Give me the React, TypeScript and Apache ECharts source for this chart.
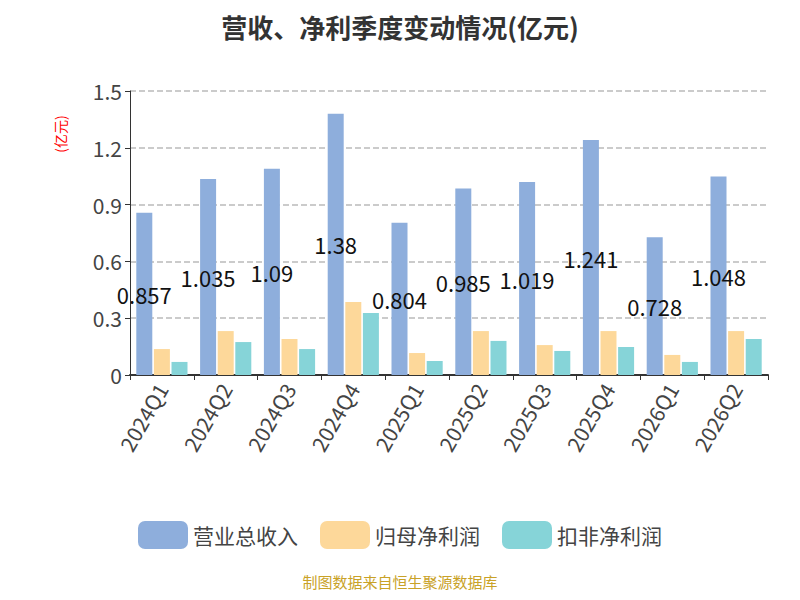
import * as echarts from 'echarts';
import { useEffect, useRef } from 'react';

const quarters = ['2024Q1', '2024Q2', '2024Q3', '2024Q4', '2025Q1', '2025Q2', '2025Q3', '2025Q4', '2026Q1', '2026Q2'];
const revenue = [0.857, 1.035, 1.09, 1.38, 0.804, 0.985, 1.019, 1.241, 0.728, 1.048];
const netProfit = [0.137, 0.232, 0.19, 0.386, 0.116, 0.232, 0.158, 0.232, 0.106, 0.232];
const deductedProfit = [0.069, 0.174, 0.137, 0.328, 0.074, 0.18, 0.127, 0.148, 0.069, 0.19];
const yTicks = { min: 0, max: 1.5, interval: 0.3 };

export default function App() {
  const chartRef = useRef<HTMLDivElement>(null);

  useEffect(() => {
    if (!chartRef.current) return;
    const chart = echarts.init(chartRef.current, null, { renderer: 'svg' });
    const font = 'Noto Sans CJK SC';

    chart.setOption({
      animation: false,
      textStyle: { fontFamily: font },
      title: {
        text: '营收、净利季度变动情况(亿元)',
        left: 'center',
        top: 0,
        textStyle: { fontSize: 26, fontWeight: 'bold', color: '#333', fontFamily: font },
      },
      grid: { left: 122, right: 24, top: 83, bottom: 217 },
      legend: {
        bottom: 38,
        itemWidth: 50,
        itemHeight: 28,
        itemGap: 22,
        icon: 'roundRect',
        textStyle: { fontSize: 21, color: '#444', fontFamily: font },
      },
      graphic: [
        {
          type: 'text',
          left: 'center',
          top: 566,
          style: { text: '制图数据来自恒生聚源数据库', fill: '#c9a227', fontSize: 15, fontFamily: font },
        },
        {
          type: 'text',
          x: 52,
          y: 126,
          rotation: Math.PI / 2,
          style: { text: '(亿元)', fill: 'red', fontSize: 14, fontFamily: font, align: 'center', verticalAlign: 'middle' },
        },
      ],
      xAxis: {
        type: 'category',
        data: quarters,
        axisLine: { lineStyle: { color: '#333', width: 2 } },
        axisTick: { show: true, lineStyle: { color: '#333' } },
        axisLabel: { rotate: 60, fontSize: 21, color: '#444', margin: 10 },
      },
      yAxis: {
        type: 'value',
        ...yTicks,
        axisLine: { show: true, lineStyle: { color: '#333', width: 1 } },
        axisTick: { show: true, lineStyle: { color: '#333' } },
        axisLabel: { fontSize: 21, color: '#444', formatter: (v: number) => (v === 0 ? '0' : v.toFixed(1)) },
        splitLine: { lineStyle: { type: 'dashed', color: '#bbb', width: 1.5 } },
      },
      series: [
        {
          name: '营业总收入',
          type: 'bar',
          data: revenue,
          barWidth: 16,
          barGap: '10%',
          itemStyle: { color: '#8eaedc' },
          label: { show: true, position: 'inside', color: '#111', fontSize: 22 },
        },
        { name: '归母净利润', type: 'bar', data: netProfit, barWidth: 16, barGap: '10%', itemStyle: { color: '#fdd89a' } },
        { name: '扣非净利润', type: 'bar', data: deductedProfit, barWidth: 16, barGap: '10%', itemStyle: { color: '#86d4d8' } },
      ],
    });

    return () => chart.dispose();
  }, []);

  return <div ref={chartRef} style={{ width: 784, height: 584 }} />;
}
